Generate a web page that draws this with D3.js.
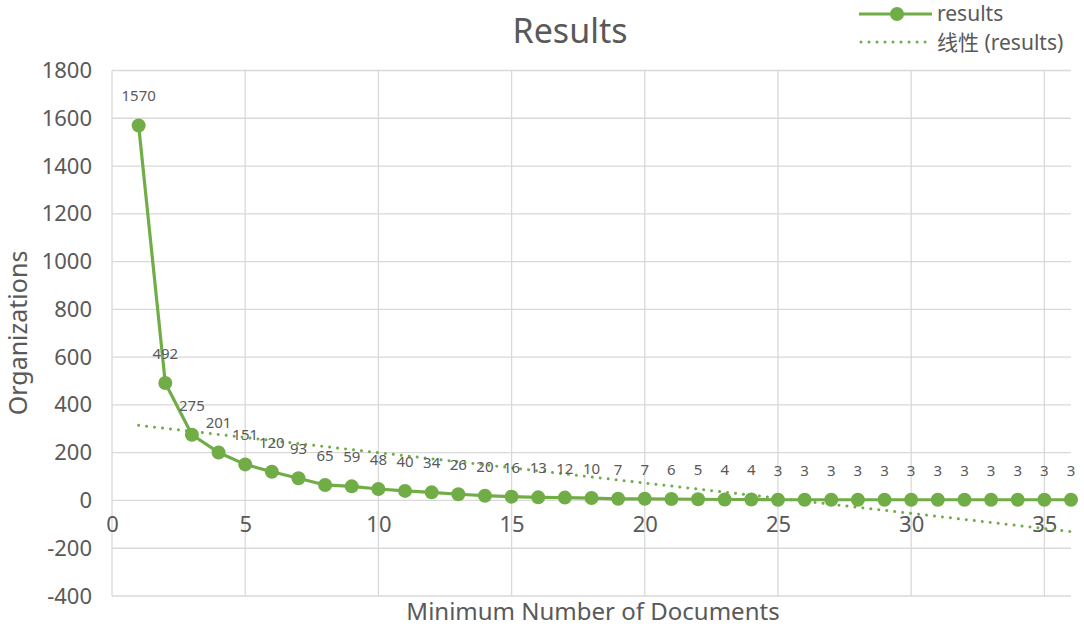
<!DOCTYPE html>
<html><head><meta charset="utf-8">
<script src="https://cdn.jsdelivr.net/npm/d3@7"></script>
<style>body{margin:0;background:#fff}svg{display:block}</style>
</head><body><svg id="c" width="1084" height="629"></svg>
<script>
const minDocs = d3.range(1, 37);
const organizations = [1570,492,275,201,151,120,93,65,59,48,40,34,26,20,16,13,12,10,7,7,6,5,4,4,3,3,3,3,3,3,3,3,3,3,3,3];
const yTicks = [-400,-200,0,200,400,600,800,1000,1200,1400,1600,1800];
const xTicks = [0,5,10,15,20,25,30,35];
const seriesName = "results";
const trendName = "线性 (results)";
const titleText = "Results";
const xTitle = "Minimum Number of Documents";
const yTitle = "Organizations";

const green = "#70AD47", grid = "#d9d9d9", txt = "#595959";
const font = "'Noto Sans','Noto Sans CJK SC',sans-serif";
const svg = d3.select("#c");
const x = d3.scaleLinear().domain([0,36]).range([112,1071]);
const y = d3.scaleLinear().domain([-400,1800]).range([596,70.5]);

svg.append("g").selectAll("line").data(yTicks).join("line")
  .attr("x1",x(0)).attr("x2",x(36)).attr("y1",d=>y(d)).attr("y2",d=>y(d))
  .attr("stroke",grid).attr("stroke-width",1.3);
svg.append("g").selectAll("line").data(xTicks).join("line")
  .attr("y1",y(1800)).attr("y2",y(-400)).attr("x1",d=>x(d)).attr("x2",d=>x(d))
  .attr("stroke",grid).attr("stroke-width",1.3);

const yAxis = d3.axisLeft(y).tickValues(yTicks).tickSize(0).tickPadding(0).tickFormat(d=>d<0?"-"+Math.abs(d):d);
const ya = svg.append("g").attr("transform","translate(92,0)").call(yAxis);
ya.select(".domain").remove();
ya.selectAll("text").attr("fill",txt).style("font-family",font).style("font-size","22px");

const xAxis = d3.axisBottom(x).tickValues(xTicks).tickSize(0).tickPadding(0);
const xa = svg.append("g").attr("transform",`translate(0,${y(0)+16})`).call(xAxis);
xa.select(".domain").remove();
xa.selectAll("text").attr("fill",txt).style("font-family",font).style("font-size","22px");

const mx = d3.mean(minDocs), my = d3.mean(organizations);
const slope = d3.sum(minDocs,(d,i)=>(d-mx)*(organizations[i]-my))/d3.sum(minDocs,d=>(d-mx)*(d-mx));
const icpt = my - slope*mx;
svg.append("line").attr("x1",x(1)).attr("x2",x(36))
  .attr("y1",y(icpt+slope*1)).attr("y2",y(icpt+slope*36))
  .attr("stroke",green).attr("stroke-width",3).attr("stroke-linecap","round").attr("stroke-dasharray","0.01 8");

const pts = minDocs.map((d,i)=>[d,organizations[i]]);
svg.append("path").datum(pts).attr("fill","none").attr("stroke",green).attr("stroke-width",3.2)
  .attr("stroke-linejoin","round")
  .attr("d",d3.line().x(d=>x(d[0])).y(d=>y(d[1])));
svg.append("g").selectAll("circle").data(pts).join("circle")
  .attr("cx",d=>x(d[0])).attr("cy",d=>y(d[1])).attr("r",7).attr("fill",green);

svg.append("g").selectAll("text").data(pts).join("text")
  .attr("x",d=>x(d[0])).attr("y",d=>y(d[1])-24).attr("text-anchor","middle")
  .attr("fill",txt).style("font-family",font).style("font-size","15px").text(d=>d[1]);

svg.append("text").attr("x",570).attr("y",43).attr("text-anchor","middle").attr("fill",txt)
  .style("font-family",font).style("font-size","34px").text(titleText);
svg.append("text").attr("x",593).attr("y",620).attr("text-anchor","middle").attr("fill",txt)
  .style("font-family",font).style("font-size","24px").text(xTitle);
svg.append("text").attr("transform","translate(27,333) rotate(-90)").attr("text-anchor","middle").attr("fill",txt)
  .style("font-family",font).style("font-size","25px").text(yTitle);

const lg = svg.append("g");
lg.append("line").attr("x1",859).attr("x2",932).attr("y1",14).attr("y2",14).attr("stroke",green).attr("stroke-width",3.2);
lg.append("circle").attr("cx",897).attr("cy",14).attr("r",7).attr("fill",green);
lg.append("text").attr("x",937).attr("y",21).attr("fill",txt).style("font-family",font).style("font-size","21px").text(seriesName);
lg.append("line").attr("x1",861).attr("x2",929).attr("y1",42).attr("y2",42).attr("stroke",green).attr("stroke-width",3)
  .attr("stroke-linecap","round").attr("stroke-dasharray","0.01 8");
lg.append("text").attr("x",937).attr("y",50).attr("fill",txt).style("font-family",font).style("font-size","21px").text(trendName);
</script></body></html>
